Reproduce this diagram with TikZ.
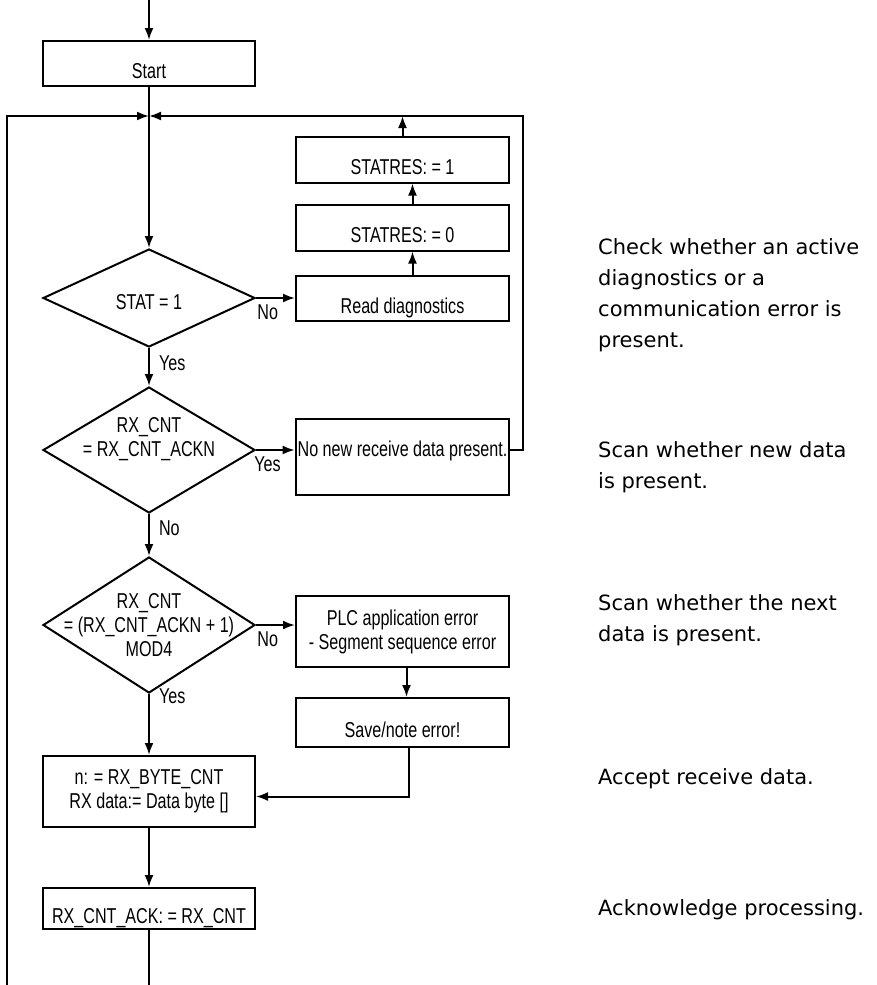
\documentclass[tikz,border=0pt]{standalone}
\usepackage{fontspec}
\newfontfamily\flowfont[FakeStretch=0.75]{Liberation Sans}
\newfontfamily\notefont{DejaVu Sans}
\usetikzlibrary{arrows.meta,shapes.geometric,positioning,calc}
\tikzset{
    block/.style = {draw, rectangle, line width=2pt,
        minimum width=212pt, minimum height=45pt,
        inner sep=2pt, align=center},
    lowtext/.style = {text height=30pt, text depth=0pt},
    decision/.style = {draw, diamond, line width=2pt,
        minimum width=212pt, inner sep=0pt},
    arrow/.style = {draw, line width=2pt, -{Latex[length=12pt,width=9pt]}},
    line/.style = {draw, line width=2pt},
    elabel/.style = {inner sep=2pt},
    note/.style = {anchor=north west, inner sep=0pt, align=left,
        font=\notefont\fontsize{21}{31}\selectfont}
}

\begin{document}
\begin{tikzpicture}[x=1pt, y=-1pt, node distance=2cm,
    font=\flowfont\fontsize{21.5}{24}\selectfont]
    \useasboundingbox (0,0) rectangle (877,985);

    % main column
    \node [block, lowtext] at (149,63.5) (start) {Start};
    \node [decision, minimum height=98pt, below of=start, node distance=234.5pt,
        label={[yshift=-4pt]center:STAT = 1}] (d1) {};
    \node [decision, minimum height=126pt, below of=d1, node distance=152pt,
        label={[align=center, yshift=10.5pt]center:RX\_CNT\\= RX\_CNT\_ACKN}] (d2) {};
    \node [decision, minimum height=136pt, below of=d2, node distance=175pt,
        label={[align=center]center:RX\_CNT\\= (RX\_CNT\_ACKN + 1)\\MOD4}] (d3) {};
    \node [block, minimum height=71pt, below of=d3, node distance=166.5pt] (nbox)
        {n: = RX\_BYTE\_CNT\\RX data:= Data byte []};
    \node [block, lowtext, minimum height=41pt, below of=nbox, node distance=117pt] (ack)
        {RX\_CNT\_ACK: = RX\_CNT};

    % right column
    \node [block, lowtext, minimum width=213pt, right of=d1, node distance=253.5pt] (rd) {Read diagnostics};
    \node [block, lowtext, minimum width=213pt, minimum height=46pt, above of=rd, node distance=70.5pt] (s0) {STATRES: = 0};
    \node [block, lowtext, minimum width=213pt, minimum height=46pt, above of=s0, node distance=68pt] (s1) {STATRES: = 1};
    \node [block, minimum width=213pt, minimum height=76pt, text depth=16pt,
        right of=d2, node distance=253.5pt, yshift=-7pt] (nonew) {No new receive data present.};
    \node [block, minimum width=213pt, minimum height=71pt,
        right of=d3, node distance=253.5pt, yshift=-6.5pt] (plc)
        {PLC application error\\- Segment sequence error};
    \node [block, lowtext, minimum width=213pt, minimum height=49pt, below of=plc, node distance=91pt] (save) {Save/note error!};

    % notes
    \node [note] at (598,238) (n1) {Check whether an active\\diagnostics or a\\communication error is\\present.};
    \node [note] at (598,441) (n2) {Scan whether new data\\is present.};
    \node [note] at (598,594) (n3) {Scan whether the next\\data is present.};
    \node [note] at (598,768) (n4) {Accept receive data.};
    \node [note] at (598,899) (n5) {Acknowledge processing.};

    % loop points
    \coordinate (entry) at (149,0);
    \coordinate (junc) at (149,116);
    \coordinate (back) at (523,116);
    \coordinate (loopin) at (7,985);
    \coordinate (exit) at (149,985);

    % connectors
    \draw [arrow] (entry) -- (start);
    \draw [arrow] (start) -- (d1);
    \draw [arrow] (loopin) |- (junc);
    \draw [arrow] (d2.east -| nonew.east) -| (back) -- (junc);
    \draw [arrow] (s1) -- (s1 |- junc);
    \draw [arrow] ([xshift=10pt]s0.north) -- ([xshift=10pt]s1.south);
    \draw [arrow] ([xshift=10pt]rd.north) -- ([xshift=10pt]s0.south);
    \draw [arrow] (d1.east) -- node [elabel, pos=0.3, below=4pt] {No} (d1.east -| rd.west);
    \draw [arrow] (d1) -- node [elabel, pos=0.4, right=7pt] {Yes} (d2);
    \draw [arrow] (d2.east) -- node [elabel, pos=0.3, below=4pt] {Yes} (d2.east -| nonew.west);
    \draw [arrow] (d2) -- node [elabel, pos=0.34, right=7pt] {No} (d3);
    \draw [arrow] (d3.east) -- node [elabel, pos=0.3, below=4pt] {No} (d3.east -| plc.west);
    \draw [arrow] (d3) -- node [elabel, pos=0.03, right=7pt] {Yes} (nbox);
    \draw [arrow] ([xshift=4pt]plc.south) -- ([xshift=4pt]save.north);
    \draw [arrow] ([xshift=6pt]save.south) |- ([yshift=-5pt]nbox.east);
    \draw [arrow] (nbox) -- (ack);
    \draw [line] (ack) -- (exit);
\end{tikzpicture}
\end{document}
